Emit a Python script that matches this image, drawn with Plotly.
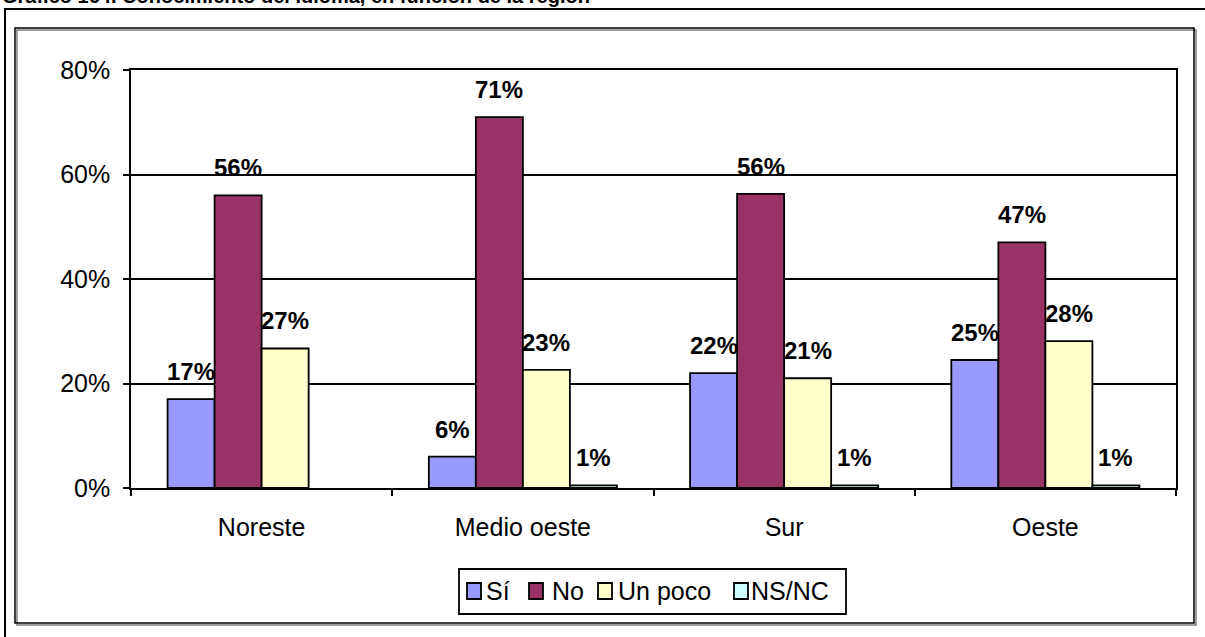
import plotly.graph_objects as go

categories = ["Noreste", "Medio oeste", "Sur", "Oeste"]
series_names = ["Sí", "No", "Un poco", "NS/NC"]
si = [0.17, 0.06, 0.22, 0.245]
no = [0.56, 0.71, 0.563, 0.47]
un_poco = [0.267, 0.226, 0.21, 0.281]
ns_nc = [None, 0.005, 0.005, 0.005]
labels_si = ["17%", "6%", "22%", "25%"]
labels_no = ["56%", "71%", "56%", "47%"]
labels_un_poco = ["27%", "23%", "21%", "28%"]
labels_ns_nc = [None, "1%", "1%", "1%"]
colors = ["#9999FF", "#993366", "#FFFFCC", "#CCFFFF"]
y_ticks = [0, 0.2, 0.4, 0.6, 0.8]
y_tick_labels = ["0%", "20%", "40%", "60%", "80%"]
title = "Gráfico 164. Conocimiento del idioma, en función de la región"

values = [si, no, un_poco, ns_nc]
labels = [labels_si, labels_no, labels_un_poco, labels_ns_nc]

W, H = 1205, 637
L, R, T, B = 131, 29, 70, 149
PW, PH = W - L - R, H - T - B
BARGAP = 0.28
FONT = "Liberation Sans, Arial"

def px(x):
    return (x - L) / PW

def py(y):
    return (H - B - y) / PH

fig = go.Figure()
for name, vals, col in zip(series_names, values, colors):
    fig.add_trace(go.Bar(
        name=name, x=categories, y=vals, showlegend=False,
        marker=dict(color=col, line=dict(color="black", width=1.8)),
    ))

n = len(series_names)
w = (1 - BARGAP) / n
annotations = []
for i, labs in enumerate(labels):
    for j, lab in enumerate(labs):
        if lab is None:
            continue
        annotations.append(dict(
            x=j + (i - (n - 1) / 2) * w, y=values[i][j], xref="x", yref="y",
            text="<b>" + lab + "</b>", showarrow=False, yanchor="bottom", yshift=12,
            font=dict(family=FONT, size=24, color="black"),
        ))

# title (clipped at page top like the reference)
annotations.append(dict(
    x=px(0), y=py(-4), xref="paper", yref="paper", xanchor="left", yanchor="middle",
    text="<b>" + title + "</b>", showarrow=False,
    font=dict(family=FONT, size=20, color="black"),
))

shapes = [
    # outer page frame
    dict(type="line", xref="paper", yref="paper", x0=px(4), x1=px(1205), y0=py(9), y1=py(9),
         line=dict(color="black", width=2)),
    dict(type="line", xref="paper", yref="paper", x0=px(5), x1=px(5), y0=py(9), y1=py(637),
         line=dict(color="black", width=2)),
    # chart area shadow + border
    dict(type="rect", xref="paper", yref="paper", x0=px(17), x1=px(1196), y0=py(30), y1=py(625),
         line=dict(color="#808080", width=1.5)),
    dict(type="rect", xref="paper", yref="paper", x0=px(15), x1=px(1194), y0=py(28), y1=py(623),
         line=dict(color="black", width=1.5)),
    # legend box
    dict(type="rect", xref="paper", yref="paper", x0=px(459), x1=px(846), y0=py(569), y1=py(614),
         line=dict(color="black", width=1.8), fillcolor="white"),
]

# legend entries
sym_left = [467, 529, 598, 734]
text_left = [484, 550, 616, 749]
sym = 14
ycen = 591
for name, col, sx, tx in zip(series_names, colors, sym_left, text_left):
    shapes.append(dict(
        type="rect", xref="paper", yref="paper",
        x0=px(sx), x1=px(sx + sym), y0=py(ycen - sym / 2 - 1), y1=py(ycen + sym / 2 + 1),
        line=dict(color="black", width=1.8), fillcolor=col,
    ))
    annotations.append(dict(
        x=px(tx), y=py(ycen), xref="paper", yref="paper", xanchor="left", yanchor="middle",
        text=name, showarrow=False, font=dict(family=FONT, size=25, color="black"),
    ))

fig.update_layout(
    width=W, height=H,
    margin=dict(l=L, r=R, t=T, b=B, pad=0),
    paper_bgcolor="white", plot_bgcolor="white",
    barmode="group", bargap=BARGAP, bargroupgap=0,
    font=dict(family=FONT, size=25, color="black"),
    showlegend=False,
    annotations=annotations,
    shapes=shapes,
    xaxis=dict(
        type="category", showline=True, linecolor="black", linewidth=1.5,
        mirror=True, ticks="outside", tickson="boundaries", ticklen=6,
        tickcolor="black", tickwidth=1.5, showgrid=False,
        tickfont=dict(size=25), ticklabelstandoff=16,
    ),
    yaxis=dict(
        range=[0, 0.8], tickvals=y_ticks, ticktext=y_tick_labels,
        showline=True, linecolor="black", linewidth=1.5, mirror=True,
        ticks="outside", ticklen=6, tickcolor="black", tickwidth=1.5,
        showgrid=True, gridcolor="black", gridwidth=1.5, zeroline=False,
        tickfont=dict(size=25), ticklabelstandoff=8,
    ),
)

fig.write_html("out.html", config={"displayModeBar": False},
               post_script="document.body.style.margin='0px';")
